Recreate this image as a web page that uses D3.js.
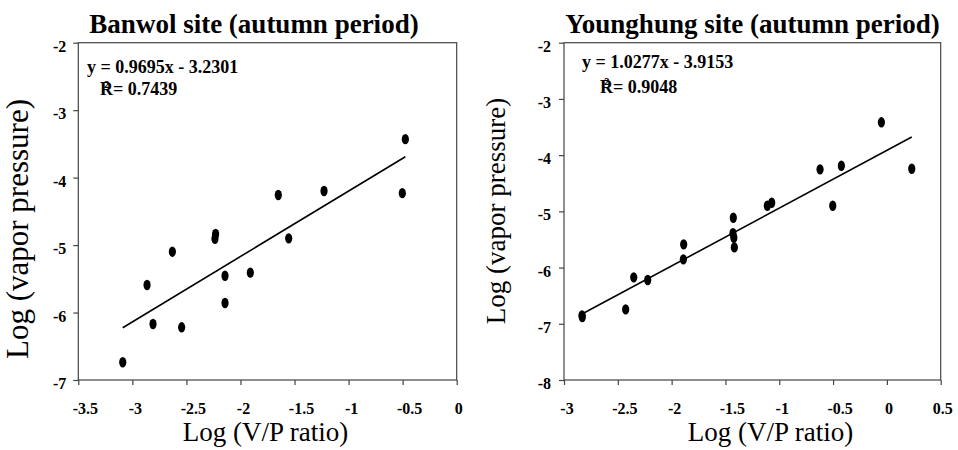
<!DOCTYPE html>
<html>
<head>
<meta charset="utf-8">
<script src="https://cdn.jsdelivr.net/npm/d3@7"></script>
<style>
  html, body { margin: 0; padding: 0; background: #fff; }
  svg { display: block; }
  text { font-family: "Liberation Serif", "Times New Roman", serif; fill: #000; }
</style>
</head>
<body>
<svg id="chart" width="958" height="450"></svg>
<script>
// Banwol site, autumn period: log(V/P ratio) vs log(vapor pressure)
const banwolX = [-3.089, -2.864, -2.809, -2.630, -2.544, -2.236, -2.230, -2.143, -2.143, -1.909, -1.650, -1.554, -1.227, -0.503, -0.475];
const banwolY = [-6.737, -5.592, -6.170, -5.098, -6.219, -4.906, -4.836, -5.454, -5.859, -5.409, -4.258, -4.900, -4.198, -4.230, -3.430];

// Younghung site, autumn period
const younghungX = [-2.833, -2.830, -2.427, -2.352, -2.222, -1.891, -1.888, -1.430, -1.427, -1.422, -1.417, -1.111, -1.070, -0.621, -0.503, -0.423, -0.051, 0.231];
const younghungY = [-6.850, -6.880, -6.744, -6.174, -6.222, -5.854, -5.587, -5.390, -5.114, -5.470, -5.641, -4.900, -4.847, -4.253, -4.900, -4.189, -3.416, -4.242];

// Linear fits (slope, intercept, R²) per site
const fitSlopes = [0.9695, 1.0277];
const fitIntercepts = [-3.2301, -3.9153];
const fitR2 = [0.7439, 0.9048];

// Axis tick values
const banwolXTicks = [-3.5, -3, -2.5, -2, -1.5, -1, -0.5, 0];
const banwolYTicks = [-7, -6, -5, -4, -3, -2];
const younghungXTicks = [-3, -2.5, -2, -1.5, -1, -0.5, 0, 0.5];
const younghungYTicks = [-8, -7, -6, -5, -4, -3, -2];

const titles = ["Banwol site (autumn period)", "Younghung site (autumn period)"];
const xTitle = "Log (V/P ratio)";
const yTitle = "Log (vapor pressure)";

const serif = "'Liberation Serif', 'Times New Roman', serif";
const svg = d3.select("#chart");

const panels = [
  {
    xs: banwolX, ys: banwolY, xTicks: banwolXTicks, yTicks: banwolYTicks,
    left: 78.3, right: 456.7, top: 42.7, bottom: 380,
    titleX: 254, yTitleX: 28, yTitleY: 229, yTitleSize: 31, xTitleX: 265.5,
    eqX: 87, eqY: 72.5, rX: 100, rY: 95, yLabelGap: 12
  },
  {
    xs: younghungX, ys: younghungY, xTicks: younghungXTicks, yTicks: younghungYTicks,
    left: 564, right: 940.7, top: 42.7, bottom: 380,
    titleX: 752.5, yTitleX: 505, yTitleY: 211, yTitleSize: 27, xTitleX: 770.5,
    eqX: 582, eqY: 67.5, rX: 600, rY: 92.5, yLabelGap: 13
  }
];

const fmt = v => String(v);

function styleTickText(sel) {
  sel.attr("font-family", serif)
    .attr("font-weight", "bold")
    .attr("font-size", 16)
    .style("font-family", serif)
    .style("font-weight", "bold")
    .style("font-size", "16px")
    .attr("fill", "#000");
}

panels.forEach((p, i) => {
  const x = d3.scaleLinear()
    .domain(d3.extent(p.xTicks))
    .range([p.left, p.right]);
  const y = d3.scaleLinear()
    .domain(d3.extent(p.yTicks))
    .range([p.bottom, p.top]);

  const g = svg.append("g");

  // Plot frame
  g.append("rect")
    .attr("x", p.left).attr("y", p.top)
    .attr("width", p.right - p.left).attr("height", p.bottom - p.top)
    .attr("fill", "none").attr("stroke", "#444").attr("stroke-width", 1.2);

  // X axis
  const xAxis = g.append("g")
    .attr("transform", `translate(0,${p.bottom})`)
    .call(d3.axisBottom(x).tickValues(p.xTicks).tickSize(5).tickFormat(fmt));
  xAxis.attr("font-family", null).attr("font-size", null);
  xAxis.select(".domain").remove();
  xAxis.selectAll(".tick line").attr("stroke", "#444").attr("stroke-width", 1.2);
  xAxis.selectAll(".tick text")
    .attr("y", 33.5).attr("dy", 0)
    .attr("dx", d => (d < 0 && !Number.isInteger(d)) ? 6.5 : (d < 0 ? 2.5 : 1.5))
    .call(styleTickText);

  // Y axis
  const yAxis = g.append("g")
    .attr("transform", `translate(${p.left},0)`)
    .call(d3.axisLeft(y).tickValues(p.yTicks).tickSize(5).tickFormat(fmt));
  yAxis.attr("font-family", null).attr("font-size", null);
  yAxis.select(".domain").remove();
  yAxis.selectAll(".tick line").attr("stroke", "#444").attr("stroke-width", 1.2);
  yAxis.selectAll(".tick text")
    .attr("x", -p.yLabelGap).attr("dy", 8.5)
    .call(styleTickText);

  // Trend line over the range of the data
  const [x0, x1] = d3.extent(p.xs);
  const fit = v => fitSlopes[i] * v + fitIntercepts[i];
  g.append("line")
    .attr("x1", x(x0)).attr("y1", y(fit(x0)))
    .attr("x2", x(x1)).attr("y2", y(fit(x1)))
    .attr("stroke", "#000").attr("stroke-width", 1.6);

  // Data points
  g.selectAll("ellipse")
    .data(p.xs.map((v, k) => [v, p.ys[k]]))
    .join("ellipse")
    .attr("cx", d => x(d[0])).attr("cy", d => y(d[1]))
    .attr("rx", 3.6).attr("ry", 5.2)
    .attr("fill", "#000");

  // Fit equation and R² (the superscript sits over the R)
  const sign = fitIntercepts[i] < 0 ? "-" : "+";
  g.append("text")
    .attr("x", p.eqX).attr("y", p.eqY)
    .style("font-weight", "bold").style("font-size", "18px")
    .text(`y = ${fitSlopes[i].toFixed(4)}x ${sign} ${Math.abs(fitIntercepts[i]).toFixed(4)}`);
  g.append("text")
    .attr("x", p.rX).attr("y", p.rY)
    .attr("dx", "0 -9 3.6")
    .attr("dy", "0 -2.5 2.5")
    .style("font-weight", "bold").style("font-size", "18px")
    .text(`R\u00B2= ${fitR2[i].toFixed(4)}`);

  // Panel title
  g.append("text")
    .attr("x", p.titleX).attr("y", 33)
    .attr("text-anchor", "middle")
    .style("font-weight", "bold").style("font-size", "27px")
    .text(titles[i]);

  // Axis titles
  g.append("text")
    .attr("x", p.xTitleX).attr("y", 441)
    .attr("text-anchor", "middle")
    .style("font-size", "27px")
    .text(xTitle);
  g.append("text")
    .attr("transform", `translate(${p.yTitleX},${p.yTitleY}) rotate(-90)`)
    .attr("text-anchor", "middle")
    .style("font-size", p.yTitleSize + "px")
    .text(yTitle);
});
</script>
</body>
</html>
